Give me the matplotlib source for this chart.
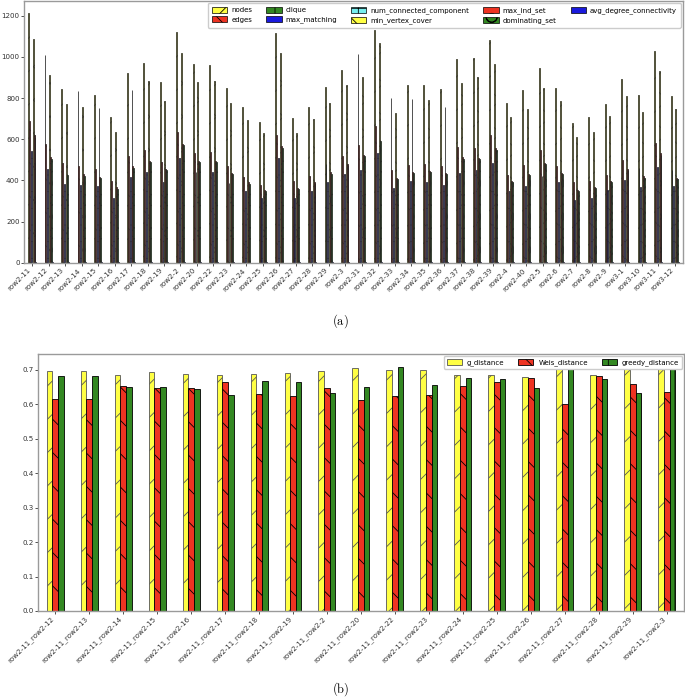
import numpy as np
import matplotlib
matplotlib.use("Agg")
import matplotlib.pyplot as plt
from matplotlib.patches import Patch

# ---------------- data: chart (a) ----------------
graphs = ["row2-11", "row2-12", "row2-13", "row2-14", "row2-15", "row2-16", "row2-17",
          "row2-18", "row2-19", "row2-2", "row2-20", "row2-22", "row2-23", "row2-24",
          "row2-25", "row2-26", "row2-27", "row2-28", "row2-29", "row2-3", "row2-31",
          "row2-32", "row2-33", "row2-34", "row2-35", "row2-36", "row2-37", "row2-38",
          "row2-39", "row2-4", "row2-40", "row2-5", "row2-6", "row2-7", "row2-8",
          "row2-9", "row3-1", "row3-10", "row3-11", "row3-12"]
nodes = [1212, 1010, 846, 837, 814, 709, 921, 972, 879, 1120, 965, 961, 848, 756,
         683, 1118, 703, 756, 856, 937, 1013, 1131, 800, 866, 863, 842, 989, 994,
         1081, 777, 840, 945, 848, 681, 708, 772, 893, 814, 1031, 810]
edges = [690, 578, 485, 470, 455, 399, 517, 549, 492, 635, 533, 537, 468, 417,
         376, 623, 399, 423, 481, 520, 573, 666, 449, 476, 478, 472, 565, 556,
         623, 428, 476, 546, 468, 391, 399, 428, 501, 460, 581, 452]
clique = [3, 3, 3, 3, 3, 3, 3, 3, 3, 3, 3, 3, 3, 3, 3, 3, 3, 3, 3, 3,
          3, 3, 3, 3, 3, 3, 3, 3, 3, 3, 3, 3, 3, 3, 3, 3, 3, 3, 3, 3]
max_matching = [541, 456, 383, 378, 375, 313, 417, 441, 391, 509, 441, 441, 386, 347,
                313, 509, 316, 349, 391, 430, 451, 533, 363, 399, 394, 380, 436, 451,
                483, 350, 375, 423, 391, 305, 316, 355, 402, 368, 467, 375]
num_connected_component = [1, 1, 1, 1, 1, 1, 1, 1, 1, 1, 1, 1, 1, 1, 1, 1, 1, 1, 1, 1,
                           1, 1, 1, 1, 1, 1, 1, 1, 1, 1, 1, 1, 1, 1, 1, 1, 1, 1, 1, 1]
min_vertex_cover = [1087, 911, 772, 758, 751, 635, 839, 885, 788, 1018, 880, 881, 776, 695,
                    630, 1018, 633, 698, 778, 863, 905, 1069, 730, 798, 791, 758, 872, 903,
                    966, 708, 748, 847, 785, 611, 635, 711, 810, 735, 934, 748]
max_ind_set = [622, 512, 431, 430, 415, 366, 470, 496, 457, 578, 496, 496, 436, 391,
               354, 569, 362, 392, 439, 481, 525, 598, 413, 441, 446, 436, 514, 510,
               556, 399, 433, 486, 436, 355, 368, 399, 457, 420, 533, 413]
dominating_set = [610, 505, 425, 424, 410, 360, 462, 488, 450, 570, 488, 489, 430, 385,
                  350, 560, 357, 386, 432, 474, 517, 590, 408, 435, 440, 430, 506, 503,
                  548, 394, 427, 478, 430, 350, 362, 393, 450, 414, 525, 407]
avg_degree_connectivity = [2, 2, 2, 2, 2, 2, 2, 2, 2, 2, 2, 2, 2, 2, 2, 2, 2, 2, 2, 2,
                           2, 2, 2, 2, 2, 2, 2, 2, 2, 2, 2, 2, 2, 2, 2, 2, 2, 2, 2, 2]
series_a_names = ["nodes", "edges", "clique", "max_matching", "num_connected_component",
                  "min_vertex_cover", "max_ind_set", "dominating_set", "avg_degree_connectivity"]
series_a = [nodes, edges, clique, max_matching, num_connected_component,
            min_vertex_cover, max_ind_set, dominating_set, avg_degree_connectivity]

# ---------------- data: chart (b) ----------------
pairs = ["row2-11_row2-12", "row2-11_row2-13", "row2-11_row2-14", "row2-11_row2-15",
         "row2-11_row2-16", "row2-11_row2-17", "row2-11_row2-18", "row2-11_row2-19",
         "row2-11_row2-2", "row2-11_row2-20", "row2-11_row2-22", "row2-11_row2-23",
         "row2-11_row2-24", "row2-11_row2-25", "row2-11_row2-26", "row2-11_row2-27",
         "row2-11_row2-28", "row2-11_row2-29", "row2-11_row2-3"]
g_distance = [0.697, 0.697, 0.686, 0.694, 0.687, 0.684, 0.689, 0.690, 0.698, 0.706,
              0.700, 0.699, 0.686, 0.684, 0.680, 0.703, 0.684, 0.702, 0.702]
Weis_distance = [0.615, 0.615, 0.652, 0.648, 0.646, 0.666, 0.630, 0.625, 0.646, 0.612,
                 0.625, 0.627, 0.653, 0.666, 0.677, 0.600, 0.683, 0.659, 0.635]
greedy_distance = [0.682, 0.682, 0.650, 0.651, 0.644, 0.628, 0.667, 0.665, 0.632, 0.651,
                   0.707, 0.655, 0.676, 0.674, 0.648, 0.705, 0.672, 0.632, 0.710]
series_b_names = ["g_distance", "Weis_distance", "greedy_distance"]
series_b = [g_distance, Weis_distance, greedy_distance]

# ---------------- styles ----------------
YEL, RED, GRN, BLU, CYN = "#ffff44", "#ee3322", "#338822", "#1a1add", "#77eeee"
colors_a = [YEL, RED, GRN, BLU, CYN, YEL, RED, GRN, BLU]
hatches_a = ["/", "\\", "|", "-", "+", "x", "o", "O", "."]
colors_b = [YEL, RED, GRN]
hatches_b = ["/", "\\", "|"]

plt.rcParams["hatch.linewidth"] = 0.6
plt.rcParams["mathtext.fontset"] = "cm"
fig = plt.figure(figsize=(6.85, 6.99), dpi=100)

def style_axes(ax):
    for s in ax.spines.values():
        s.set_color("#9a9a9a")
        s.set_linewidth(1.0)
    ax.tick_params(colors="#333333", length=2.0, width=0.6, labelsize=5.1, pad=1.2)

# ---- (a) ----
ax1 = fig.add_axes([0.035, 0.624, 0.962, 0.3746])
n = len(graphs)
k = len(series_a)
x = np.arange(n)
w = 0.5 / k
for i, (name, vals) in enumerate(zip(series_a_names, series_a)):
    ax1.bar(x + (i - (k - 1) / 2) * w, vals, width=w, color=colors_a[i],
            edgecolor="#222222", linewidth=0.55, hatch=hatches_a[i], label=name)
ax1.set_xlim(-0.5, n - 0.5)
ax1.set_ylim(0, 1272)
ax1.set_yticks(range(0, 1201, 200))
ax1.set_xticks(x)
ax1.set_xticklabels(graphs, rotation=45, ha="right")
style_axes(ax1)
handles_a = [Patch(facecolor=colors_a[i], edgecolor="black", linewidth=0.5,
                   hatch=hatches_a[i], label=series_a_names[i]) for i in range(k)]
ax1.legend(handles=handles_a, ncol=5, loc="upper right", fontsize=5.0,
           framealpha=1, fancybox=True, edgecolor="#cccccc",
           handlelength=2.2, handleheight=0.9, columnspacing=2.0, handletextpad=0.6,
           borderpad=0.55, labelspacing=0.45, borderaxespad=0.3)

# ---- (b) ----
ax2 = fig.add_axes([0.0555, 0.1259, 0.943, 0.3677])
m = len(pairs)
kb = len(series_b)
xb = np.arange(m)
wb = 0.5 / kb
for i, (name, vals) in enumerate(zip(series_b_names, series_b)):
    ax2.bar(xb + (i - (kb - 1) / 2) * wb, vals, width=wb, color=colors_b[i],
            edgecolor="#555555" if i == 0 else "black", linewidth=0.6,
            hatch=hatches_b[i], label=name)
ax2.set_xlim(-0.5, m - 0.5)
ax2.set_ylim(0, 0.746)
yt = np.arange(0, 0.71, 0.1)
ax2.set_yticks(yt)
ax2.set_yticklabels([f"{v:.1f}" for v in yt])
ax2.set_xticks(xb)
ax2.set_xticklabels(pairs, rotation=45, ha="right")
style_axes(ax2)
ax2.legend(ncol=3, loc="upper right", fontsize=5.0, framealpha=1, fancybox=True,
           edgecolor="#cccccc", handlelength=2.2, handleheight=0.9, columnspacing=2.0,
           handletextpad=0.7, borderpad=0.4, borderaxespad=0.3)

fig.text(0.497, 0.541, r"$\mathrm{(a)}$", ha="center", va="center", fontsize=9)
fig.text(0.497, 0.014, r"$\mathrm{(b)}$", ha="center", va="center", fontsize=9)

fig.savefig("out.png", dpi=100, facecolor="white")
